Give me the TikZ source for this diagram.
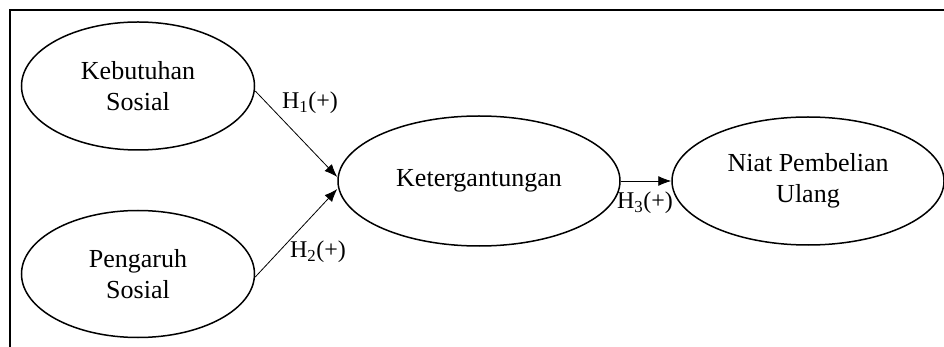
\documentclass[tikz,border=0pt]{standalone}
\usepackage{fontspec}
\setmainfont{Liberation Serif}
\usetikzlibrary{shapes.geometric,arrows.meta}

\tikzset{
  construct/.style={draw, ellipse, line width=1.5pt, inner sep=0pt,
    align=center, font=\fontsize{26}{31}\selectfont},
  path arrow/.style={draw, line width=0.8pt, -{Latex[length=13pt,width=10pt]}},
  hyp/.style={font=\fontsize{24}{26}\selectfont, inner sep=0pt}
}

\begin{document}
\begin{tikzpicture}[x=1pt,y=-1pt]
  \useasboundingbox (0,0) rectangle (944,347);
  % open frame: top and left rules
  \draw[line width=1.3pt] (944,10) -- (10,10) -- (10,347);

  % constructs
  \node[construct, minimum width=233pt, minimum height=128pt] (ks) at (138,86)
    {Kebutuhan\\Sosial};
  \node[construct, minimum width=233pt, minimum height=127pt] (ps) at (138,274)
    {Pengaruh\\Sosial};
  \node[construct, minimum width=282pt, minimum height=130pt] (kt) at (479,181)
    {Ketergantungan};
  \node[construct, minimum width=272pt, minimum height=128pt] (np) at (808,181)
    {Niat Pembelian\\Ulang};

  % hypothesised paths
  \draw[path arrow] ([yshift=-5pt]ks.east) -- ([yshift=4pt]kt.west);
  \draw[path arrow] ([yshift=-3pt]ps.east) -- ([yshift=-8pt]kt.west);
  \draw[path arrow] (kt.east) -- (np.west);

  % path labels
  \node[hyp] (h1) at (310,103) {H\textsubscript{1}(+)};
  \node[hyp] (h2) at (318,252) {H\textsubscript{2}(+)};
  \node[hyp] (h3) at (645,203) {H\textsubscript{3}(+)};
\end{tikzpicture}
\end{document}
